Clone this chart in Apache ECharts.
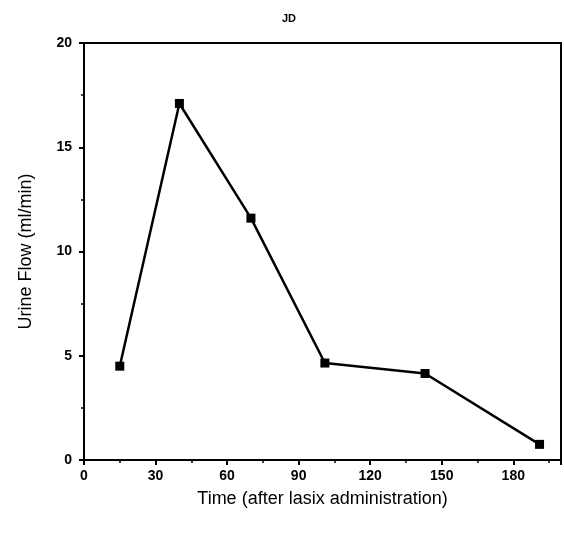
<!DOCTYPE html>
<html>
<head>
<meta charset="utf-8">
<script src="https://cdn.jsdelivr.net/npm/echarts@6/dist/echarts.min.js"></script>
<style>html,body{margin:0;padding:0;background:#fff}#c{width:564px;height:537px}</style>
</head>
<body>
<div id="c"></div>
<script>
const titleText = 'JD';
const xName = 'Time (after lasix administration)';
const yName = 'Urine Flow (ml/min)';
const timeValues = [15, 40, 70, 101, 143, 191];
const flowValues = [4.5, 17.1, 11.6, 4.65, 4.15, 0.75];

const chart = echarts.init(document.getElementById('c'), null, {renderer: 'canvas'});
const font = '"Liberation Sans", Arial, sans-serif';
chart.setOption({
  animation: false,
  backgroundColor: '#fff',
  title: {
    text: titleText, left: 284, top: 8, textAlign: 'center',
    textStyle: {fontFamily: font, fontSize: 11, fontWeight: 'bold', color: '#000'}
  },
  grid: {left: 84, right: 3, top: 43, bottom: 77, show: true, borderColor: '#000', borderWidth: 2},
  xAxis: {
    type: 'value', min: 0, max: 200, interval: 30,
    name: xName, nameLocation: 'middle', nameGap: 30,
    nameTextStyle: {fontFamily: font, fontSize: 18, color: '#000'},
    axisLine: {show: true, lineStyle: {color: '#000', width: 2}},
    axisTick: {show: true, inside: false, length: 5, lineStyle: {color: '#000', width: 2}},
    minorTick: {show: true, splitNumber: 2, length: 3, lineStyle: {color: '#000', width: 1.5}},
    axisLabel: {fontFamily: font, fontSize: 14, fontWeight: 'bold', color: '#000', margin: 9, showMaxLabel: false},
    splitLine: {show: false}
  },
  yAxis: {
    type: 'value', min: 0, max: 20, interval: 5,
    name: yName, nameLocation: 'middle', nameGap: 49,
    nameTextStyle: {fontFamily: font, fontSize: 18, color: '#000'},
    axisLine: {show: true, lineStyle: {color: '#000', width: 2}},
    axisTick: {show: true, inside: false, length: 5, lineStyle: {color: '#000', width: 2}},
    minorTick: {show: true, splitNumber: 2, length: 3, lineStyle: {color: '#000', width: 1.5}},
    axisLabel: {fontFamily: font, fontSize: 14, fontWeight: 'bold', color: '#000', margin: 12},
    splitLine: {show: false}
  },
  series: [{
    type: 'line',
    data: timeValues.map((t, i) => [t, flowValues[i]]),
    symbol: 'rect', symbolSize: 9,
    itemStyle: {color: '#000'},
    lineStyle: {color: '#000', width: 2.5}
  }]
});
</script>
</body>
</html>
